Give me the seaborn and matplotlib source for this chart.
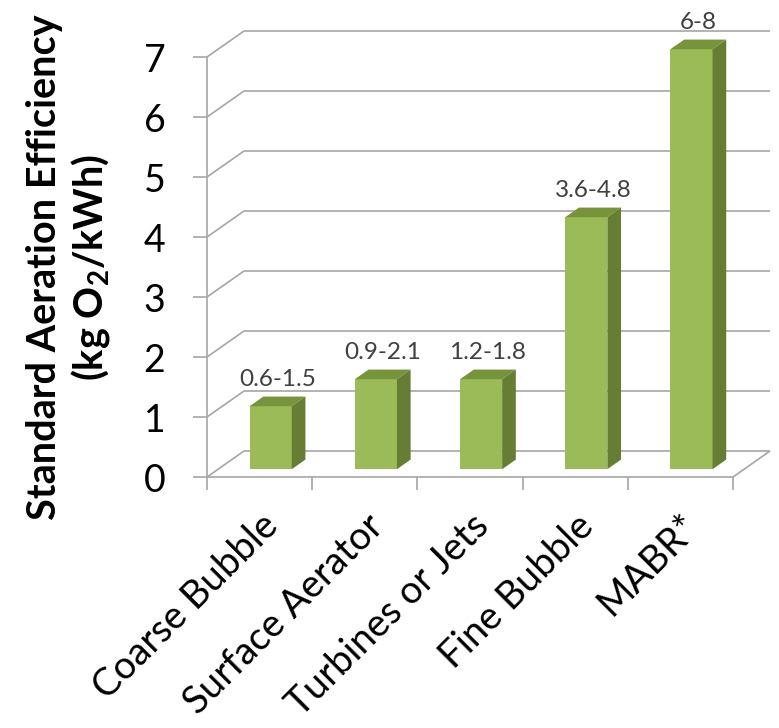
import matplotlib
matplotlib.use("Agg")
import matplotlib.pyplot as plt
import seaborn as sns
import numpy as np
from matplotlib.patches import Polygon

# Aeration technologies and their standard aeration efficiency (kg O2/kWh)
categories = ["Coarse Bubble", "Surface Aerator", "Turbines or Jets", "Fine Bubble", "MABR*"]
range_labels = ["0.6-1.5", "0.9-2.1", "1.2-1.8", "3.6-4.8", "6-8"]
values = [1.05, 1.5, 1.5, 4.2, 7.0]   # bar heights: midpoints of each range
yticks = [0, 1, 2, 3, 4, 5, 6, 7]

FRONT = "#9BBB59"
TOP = "#77933C"
SIDE = "#667D34"
GRID = "#A6A6A6"

sns.set_theme(style="white")
plt.rcParams["font.family"] = ["Lato", "DejaVu Sans"]
plt.rcParams["mathtext.fontset"] = "custom"
plt.rcParams["mathtext.rm"] = "Lato"
plt.rcParams["mathtext.bf"] = "Lato:bold"

W, H = 779, 728
fig = plt.figure(figsize=(W / 100, H / 100), dpi=100)
# front plane of the 3-D box, in pixels
x_left, x_right, y_base, y_top = 207, 733, 477, 57
ax = fig.add_axes([x_left / W, 1 - y_base / H, (x_right - x_left) / W, (y_base - y_top) / H])

sns.barplot(x=categories, y=values, color=FRONT, saturation=1, width=0.4,
            ax=ax, zorder=3, linewidth=0)
ax.set_xlim(-0.5, len(categories) - 0.5)
ax.set_ylim(yticks[0], yticks[-1])

# oblique depth vector (full box depth) expressed in data units
px_per_cat = (x_right - x_left) / len(categories)
px_per_unit = (y_base - y_top) / (yticks[-1] - yticks[0])
DX = 37 / px_per_cat
DY = 26 / px_per_unit


def shift(x, y, f):
    return x + f * DX, y + f * DY


xl, xr = -0.5, len(categories) - 0.5
line_kw = dict(color=GRID, lw=1.2, clip_on=False, zorder=1, solid_capstyle="butt")

# back wall gridlines and left wall diagonals
for y in yticks:
    bx0, by0 = shift(xl, y, 1)
    bx1, by1 = shift(xr, y, 1)
    ax.plot([bx0, bx1], [by0, by1], **line_kw)
    ax.plot([xl, bx0], [y, by0], **line_kw)

# floor edges and front vertical axis
ax.plot([xl, xr], [0, 0], **line_kw)
fx, fy = shift(xr, 0, 1)
ax.plot([xr, fx], [0, fy], **line_kw)
ax.plot([xl, xl], [0, yticks[-1]], **line_kw)

# bars: front faces from seaborn, pushed into the box, plus top and side faces
f0, f1 = 0.30, 0.67
depth = f1 - f0
fm = (f0 + f1) / 2
for i, p in enumerate(ax.patches[:len(values)]):
    x = p.get_x() + f0 * DX
    y0 = f0 * DY
    w = p.get_width()
    h = p.get_height()
    p.set_x(x)
    p.set_y(y0)
    p.set_clip_on(False)
    top = [(x, y0 + h), (x + w, y0 + h), shift(x + w, y0 + h, depth), shift(x, y0 + h, depth)]
    side = [(x + w, y0), (x + w, y0 + h), shift(x + w, y0 + h, depth), shift(x + w, y0, depth)]
    ax.add_patch(Polygon(top, closed=True, facecolor=TOP, edgecolor="none", zorder=3, clip_on=False))
    ax.add_patch(Polygon(side, closed=True, facecolor=SIDE, edgecolor="none", zorder=3, clip_on=False))
    ax.annotate(range_labels[i], shift(i, values[i], fm), xytext=(0, 16),
                textcoords="offset points", ha="center", va="center",
                fontsize=17.5, color="#404040", annotation_clip=False)

for s in ax.spines.values():
    s.set_visible(False)

ax.set_yticks(yticks)
ax.set_yticklabels([str(t) for t in yticks])
ax.tick_params(axis="y", which="major", left=True, length=10, width=1.2, color=GRID,
               pad=20, labelsize=27, labelcolor="#000000")

ax.set_xticks(range(len(categories)))
ax.set_xticklabels(categories)
ax.set_xticks(np.arange(-0.5, len(categories)), minor=True)
ax.tick_params(axis="x", which="major", bottom=True, length=0, pad=22,
               labelsize=27.5, labelcolor="#000000", labelrotation=45)
ax.tick_params(axis="x", which="minor", bottom=True, length=9, width=1.2, color=GRID)
for lab in ax.get_xticklabels():
    lab.set_ha("right")
    lab.set_rotation_mode("anchor")

ax.set_xlabel("")
ax.set_ylabel("Standard Aeration Efficiency\n(kg O$_\\mathbf{2}$/kWh)",
              fontsize=28.5, fontweight="bold", linespacing=1.2, color="#000000")
ax.yaxis.set_label_coords(-0.18, 0.5)

fig.savefig("out.png", dpi=100, facecolor="white")
